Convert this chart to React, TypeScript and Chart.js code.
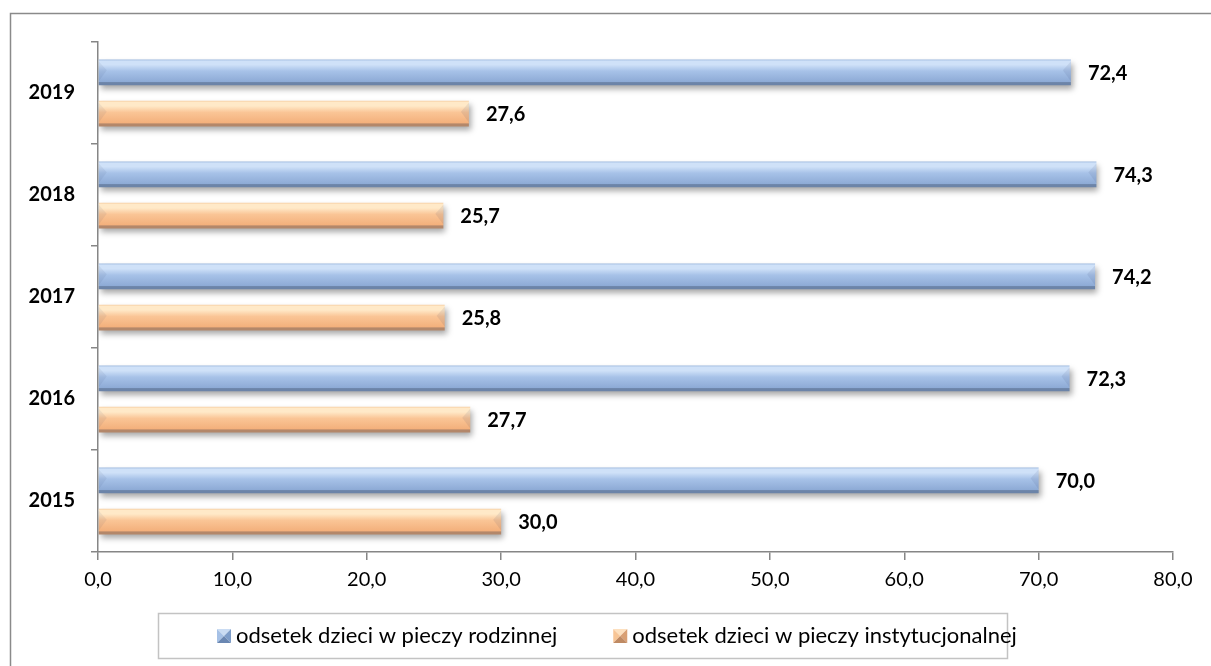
import React, { useEffect, useRef } from "react";
import { Chart, registerables } from "chart.js";

Chart.register(...registerables);

const categories = ["2019", "2018", "2017", "2016", "2015"];
const familyCare = [72.4, 74.3, 74.2, 72.3, 70.0];
const institutionalCare = [27.6, 25.7, 25.8, 27.7, 30.0];
const seriesLabels = [
  "odsetek dzieci w pieczy rodzinnej",
  "odsetek dzieci w pieczy instytucjonalnej",
];
const xTicks = [0, 10, 20, 30, 40, 50, 60, 70, 80];

const FONT = "Lato, 'Open Sans', sans-serif";
const fmt = (v: number) => v.toFixed(1).replace(".", ",");

const palettes = [
  {
    edgeTop: "#9db9df",
    hi: "#cfe1f8",
    mid: "#a7c2e8",
    low: "#8eabd6",
    edgeBot: "#6c84a8",
    tri: ["#cadcf3", "#a6c1e6", "#7e9dc9", "#6a87b2"],
  },
  {
    edgeTop: "#f6cfa4",
    hi: "#ffe9c8",
    mid: "#fac596",
    low: "#f3b07c",
    edgeBot: "#b3876a",
    tri: ["#fde0bf", "#f7c596", "#d9a074", "#bf8a63"],
  },
];

const barStylePlugin = {
  id: "barStyle",
  beforeDatasetsDraw(chart: any) {
    const ctx = chart.ctx;
    chart.data.datasets.forEach((_: any, di: number) => {
      const meta = chart.getDatasetMeta(di);
      const p = palettes[di];
      meta.data.forEach((el: any) => {
        const top = el.y - el.height / 2;
        const bot = el.y + el.height / 2;
        const g = ctx.createLinearGradient(0, top, 0, bot);
        g.addColorStop(0, p.edgeTop);
        g.addColorStop(0.06, p.hi);
        g.addColorStop(0.2, p.hi);
        g.addColorStop(0.45, p.mid);
        g.addColorStop(0.86, p.low);
        g.addColorStop(0.9, p.edgeBot);
        g.addColorStop(1, p.edgeBot);
        el.options = Object.assign({}, el.options, {
          backgroundColor: g,
          borderWidth: 0,
        });
      });
    });
    ctx.save();
    ctx.shadowColor = "rgba(0,0,0,0.35)";
    ctx.shadowBlur = 6;
    ctx.shadowOffsetX = 2;
    ctx.shadowOffsetY = 4;
  },
  afterDatasetsDraw(chart: any) {
    const ctx = chart.ctx;
    ctx.restore();
    chart.data.datasets.forEach((ds: any, di: number) => {
      const meta = chart.getDatasetMeta(di);
      meta.data.forEach((el: any, i: number) => {
        const top = el.y - el.height / 2;
        const bot = el.y + el.height / 2;
        const left = Math.min(el.base, el.x);
        const right = Math.max(el.base, el.x);
        const w = 8;
        ctx.save();
        ctx.fillStyle = "rgba(40,60,100,0.07)";
        ctx.beginPath();
        ctx.moveTo(left, top + 2);
        ctx.lineTo(left + w, el.y - 2);
        ctx.lineTo(left, bot - 4);
        ctx.closePath();
        ctx.fill();
        ctx.fillStyle = "rgba(40,60,100,0.09)";
        ctx.beginPath();
        ctx.moveTo(right, top + 2);
        ctx.lineTo(right - w, el.y - 2);
        ctx.lineTo(right, bot - 4);
        ctx.closePath();
        ctx.fill();
        ctx.restore();
        ctx.save();
        ctx.fillStyle = "#000";
        ctx.font = `bold 20px ${FONT}`;
        ctx.textAlign = "left";
        ctx.textBaseline = "middle";
        ctx.fillText(fmt(ds.data[i]), right + 17, el.y + 1);
        ctx.restore();
      });
    });
  },
};

const frameLegendPlugin = {
  id: "frameLegend",
  afterDraw(chart: any) {
    const ctx = chart.ctx;
    ctx.save();
    // outer frame
    ctx.strokeStyle = "#8a8a8a";
    ctx.lineWidth = 1.5;
    ctx.strokeRect(10.5, 13.5, 1400, 1000);
    // legend box
    ctx.strokeStyle = "#c3c3c3";
    ctx.lineWidth = 1.5;
    ctx.strokeRect(158.5, 613.5, 849, 45);
    ctx.font = `22px ${FONT}`;
    ctx.textBaseline = "middle";
    ctx.textAlign = "left";
    const cy = 636;
    let x = 217;
    seriesLabels.forEach((label, di) => {
      const s = 14;
      const ix = x;
      const iy = cy - s / 2;
      const t = palettes[di].tri;
      const cx0 = ix + s / 2;
      const cy0 = iy + s / 2;
      const tris = [
        [[ix, iy], [ix + s, iy]],
        [[ix, iy], [ix, iy + s]],
        [[ix + s, iy], [ix + s, iy + s]],
        [[ix, iy + s], [ix + s, iy + s]],
      ];
      tris.forEach((pts, k) => {
        ctx.fillStyle = t[k];
        ctx.beginPath();
        ctx.moveTo(pts[0][0], pts[0][1]);
        ctx.lineTo(pts[1][0], pts[1][1]);
        ctx.lineTo(cx0, cy0);
        ctx.closePath();
        ctx.fill();
      });
      ctx.fillStyle = "#000";
      const tx = ix + s + 5;
      ctx.fillText(label, tx, cy);
      x = tx + ctx.measureText(label).width + 56;
    });
    ctx.restore();
  },
};

export default function App() {
  const ref = useRef<HTMLCanvasElement | null>(null);
  useEffect(() => {
    if (!ref.current) return;
    const chart = new Chart(ref.current, {
      type: "bar",
      data: {
        labels: categories,
        datasets: [
          {
            label: seriesLabels[0],
            data: familyCare,
            backgroundColor: "#a9c4ea",
            categoryPercentage: 0.81,
            barPercentage: 0.62,
          },
          {
            label: seriesLabels[1],
            data: institutionalCare,
            backgroundColor: "#fbc99c",
            categoryPercentage: 0.81,
            barPercentage: 0.62,
          },
        ],
      },
      options: {
        indexAxis: "y",
        animation: false,
        responsive: true,
        maintainAspectRatio: false,
        layout: { padding: { top: 42, right: 38, left: 0, bottom: 74 } },
        plugins: {
          legend: { display: false },
          tooltip: { enabled: false },
        },
        scales: {
          x: {
            min: 0,
            max: 80,
            afterBuildTicks: (scale: any) => {
              scale.ticks = xTicks.map((v) => ({ value: v }));
            },
            afterFit: (scale: any) => {
              scale.height = 40;
            },
            border: { color: "#868686", width: 1.5 },
            grid: {
              drawOnChartArea: false,
              color: "#868686",
              tickLength: 8,
              lineWidth: 1.5,
            },
            ticks: {
              color: "#000",
              font: { family: FONT, size: 20 },
              padding: 8,
              maxRotation: 0,
              callback: (v: any) => fmt(Number(v)),
            },
          },
          y: {
            afterFit: (scale: any) => {
              scale.width = 98;
            },
            border: { color: "#868686", width: 1.5 },
            grid: {
              drawOnChartArea: false,
              color: "#868686",
              tickLength: 7,
              lineWidth: 1.5,
              offset: true,
            },
            ticks: {
              color: "#000",
              font: { family: FONT, size: 20, weight: "bold" },
              padding: 16,
            },
          },
        },
      },
      plugins: [barStylePlugin, frameLegendPlugin],
    });
    return () => chart.destroy();
  }, []);
  return (
    <div
      style={{
        position: "absolute",
        left: 0,
        top: 0,
        width: 1211,
        height: 666,
        background: "#fff",
      }}
    >
      <canvas ref={ref} />
    </div>
  );
}
